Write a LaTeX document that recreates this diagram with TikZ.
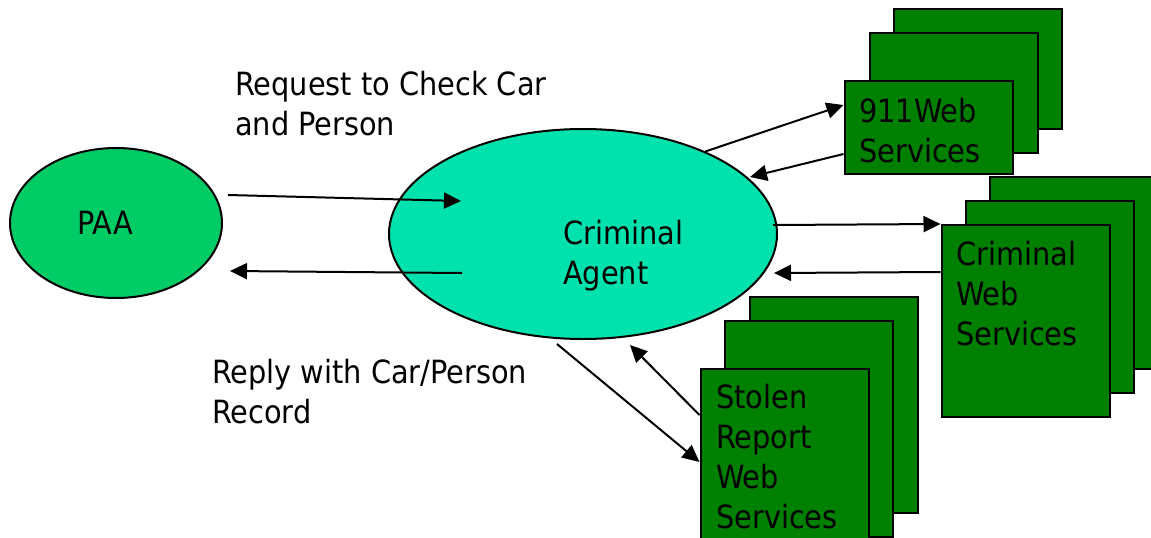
\documentclass[tikz,border=0pt]{standalone}
\usepackage{fontspec}
\setmainfont{DejaVu Sans Condensed}
\usepackage{tikz}
\usetikzlibrary{arrows.meta,calc,shapes.geometric}
\definecolor{paagreen}{RGB}{0,204,102}
\definecolor{agentgreen}{RGB}{0,226,173}
\definecolor{svcgreen}{RGB}{0,128,0}

\begin{document}
\begin{tikzpicture}[x=1pt,y=-1pt,
    txt/.style={anchor=base west, align=left, inner sep=0pt, font=\fontsize{32pt}{40pt}\selectfont},
    blob/.style={ellipse, draw=black, line width=2pt, inner sep=0pt},
    svc/.style={rectangle, draw=black, fill=svcgreen, line width=2pt, inner sep=0pt, minimum width=168pt},
    link/.style={line width=2pt, -{Triangle[length=17pt,width=16pt]}}]
      \useasboundingbox (0,0) rectangle (1151,538);
      \node [blob, fill=paagreen, minimum width=212pt, minimum height=150pt] (PAA) at (116,223) {};
      \node [blob, fill=agentgreen, minimum width=388pt, minimum height=210pt] (CA) at (583,234) {};
      % base anchor = last line
      \node [txt] (PAAt) at (77,234) {PAA};
      \node [txt] (CAt) at (563,284) {Criminal\\Agent};
      % 911 web services
      \node [svc, minimum height=120pt] (N3) at (977.5,69) {};
      \node [svc, minimum height=120pt] (N2) at (953.5,93) {};
      \node [svc, minimum height=93pt] (N1) at (928.5,127.5) {};
      \node [txt] (N1t) at (859,162) {911Web\\Services};
      % criminal web services
      \node [svc, minimum height=192pt] (C3) at (1073.5,273) {};
      \node [svc, minimum height=192pt] (C2) at (1049.5,297) {};
      \node [svc, minimum height=192pt] (C1) at (1025.5,321) {};
      \node [txt] (C1t) at (956,345) {Criminal\\Web\\Services};
      % stolen report web services
      \node [svc, minimum height=216pt] (R3) at (833.5,405) {};
      \node [svc, minimum height=216pt] (R2) at (809,429) {};
      \node [svc, minimum height=216pt] (R1) at (784.5,477) {};
      \node [txt] (R1t) at (716,528) {Stolen\\Report\\Web\\Services};
      \node [txt] (Q) at (235,135) {Request to Check Car\\and Person};
      \node [txt] (P) at (212,423) {Reply with Car/Person\\Record};
      \draw [link] ($(PAA.center)+(112,-28)$) to ($(CA.center)+(-122,-33)$);
      \draw [link] ($(CA.center)+(-121,39)$) to ($(PAA.center)+(114,48)$);
      \draw [link] (CA.34) to ($(N1.north west)+(0,25)$);
      \draw [link] ($(N1.south west)+(0,-21)$) to ($(CA.center)+(167,-57)$);
      \draw [link] ($(CA.center)+(190,-9)$) to (C1.north west);
      \draw [link] ($(C1.north west)+(0,48)$) to ($(CA.center)+(191,39)$);
      \draw [link] ($(CA.center)+(-26,110)$) to ($(R1.north west)+(0,94)$);
      \draw [link] ($(R1.north west)+(0,47)$) to ($(CA.center)+(47,111)$);
    \end{tikzpicture}
\end{document}
